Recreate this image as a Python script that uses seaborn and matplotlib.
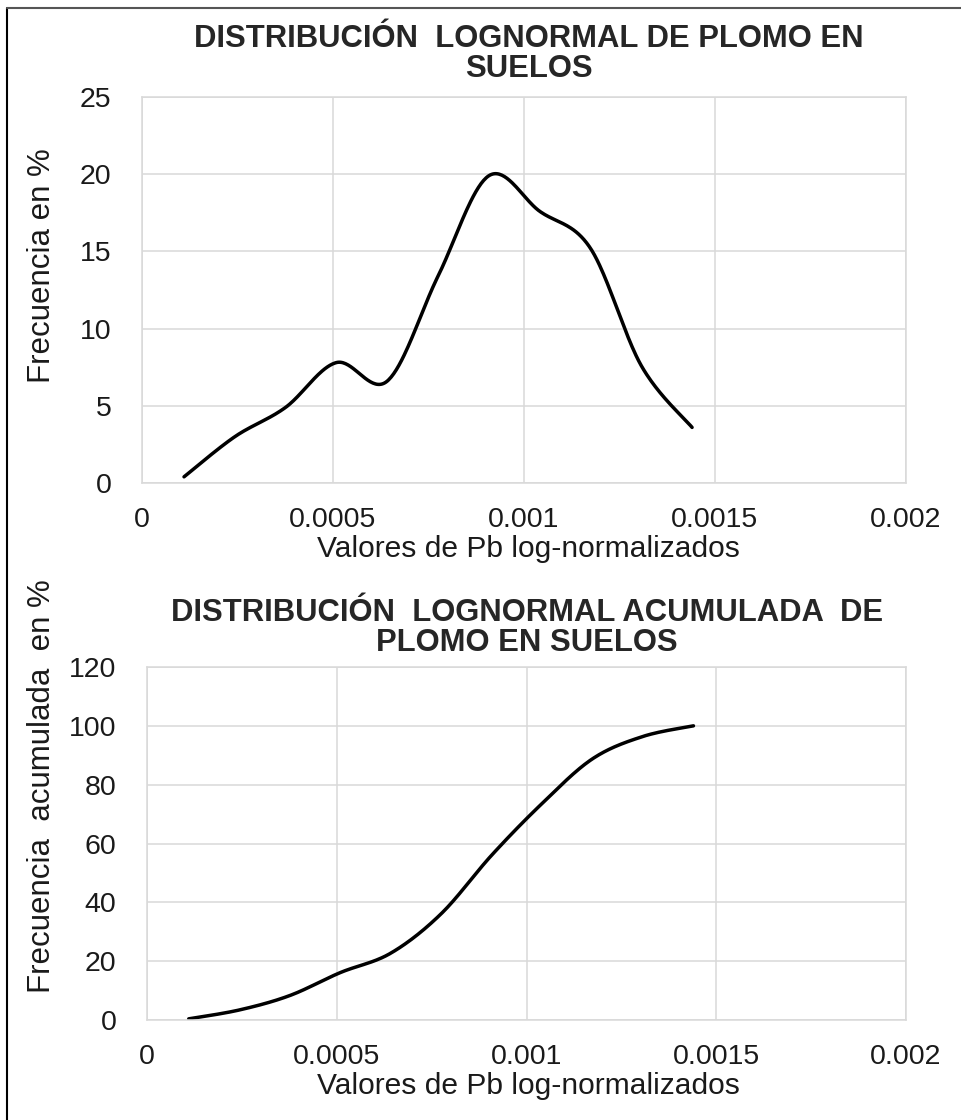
import seaborn as sns
import pandas as pd
import numpy as np
import matplotlib.pyplot as plt


# valores de Pb log-normalizados (centros de clase)
pb_vals = [0.00011, 0.000243, 0.000376, 0.000509, 0.000642, 0.000775,
           0.000908, 0.001041, 0.001174, 0.001307, 0.00144]
# frecuencia en %
frecuencia = [0.4, 3.0, 4.9, 7.8, 6.6, 13.4, 19.9, 17.6, 15.2, 7.6, 3.6]
# frecuencia acumulada en %
acumulada = [0.4, 3.4, 8.3, 16.1, 22.7, 36.1, 56.0, 73.6, 88.8, 96.4, 100.0]

xticks = [0, 0.0005, 0.001, 0.0015, 0.002]
xtick_labels = ['0', '0.0005', '0.001', '0.0015', '0.002']
yticks_top = [0, 5, 10, 15, 20, 25]
yticks_bot = [0, 20, 40, 60, 80, 100, 120]

titulo_1 = 'DISTRIBUCIÓN  LOGNORMAL DE PLOMO EN\nSUELOS'
titulo_2 = 'DISTRIBUCIÓN  LOGNORMAL ACUMULADA  DE\nPLOMO EN SUELOS'
xlab = 'Valores de Pb log-normalizados'
ylab_1 = 'Frecuencia en %'
ylab_2 = 'Frecuencia  acumulada  en %'


def smooth(xs, ys, n=40):
    # curva suavizada tipo Excel (bezier con tangentes catmull-rom)
    p = np.column_stack([xs, ys]).astype(float)
    p = np.vstack([p[0], p, p[-1]])
    out = []
    t = np.linspace(0, 1, n)[:, None]
    for i in range(1, len(p) - 2):
        p0, p3 = p[i], p[i + 1]
        c1 = p0 + (p[i + 1] - p[i - 1]) / 6
        c2 = p3 - (p[i + 2] - p[i]) / 6
        seg = ((1 - t) ** 3) * p0 + 3 * ((1 - t) ** 2) * t * c1 \
            + 3 * (1 - t) * t ** 2 * c2 + t ** 3 * p3
        out.append(seg)
    out = np.vstack(out)
    return pd.DataFrame({'x': out[:, 0], 'y': out[:, 1]})


sns.set_style('white')
plt.rcParams['font.family'] = ['Liberation Sans', 'DejaVu Sans']

W, H = 961, 1120
fig = plt.figure(figsize=(W / 100, H / 100), dpi=100)


def px_axes(left, top, right, bottom):
    return fig.add_axes([left / W, 1 - bottom / H, (right - left) / W, (bottom - top) / H])


def style(ax, yticks):
    ax.set_xlim(0, 0.002)
    ax.set_ylim(yticks[0], yticks[-1])
    ax.set_xticks(xticks)
    ax.set_xticklabels(xtick_labels)
    ax.set_yticks(yticks)
    ax.grid(True, color='#d9d9d9', linewidth=1.1)
    ax.tick_params(length=0, labelsize=20.5, labelcolor='#1a1a1a')
    ax.tick_params(axis='x', pad=17)
    ax.tick_params(axis='y', pad=22)
    for s in ax.spines.values():
        s.set_color('#d9d9d9')
        s.set_linewidth(1.1)
    ax.set_xlabel('')
    ax.set_ylabel('')


ax1 = px_axes(142, 97, 906, 483)
sns.lineplot(data=smooth(pb_vals, frecuencia), x='x', y='y', sort=False,
             color='black', linewidth=2.5, ax=ax1)
style(ax1, yticks_top)

ax2 = px_axes(147, 667, 906, 1020)
sns.lineplot(data=smooth(pb_vals, acumulada), x='x', y='y', sort=False,
             color='black', linewidth=2.5, ax=ax2)
style(ax2, yticks_bot)

fig.text(529 / W, 1 - 54 / H, titulo_1, ha='center', va='center',
         fontsize=22.3, fontweight='bold', linespacing=1.0)
fig.text(527 / W, 1 - 628 / H, titulo_2, ha='center', va='center',
         fontsize=22.3, fontweight='bold', linespacing=1.0)

fig.text(528 / W, 1 - 549 / H, xlab, ha='center', va='center', fontsize=21.6, color='#1a1a1a')
fig.text(528 / W, 1 - 1086 / H, xlab, ha='center', va='center', fontsize=21.6, color='#1a1a1a')
fig.text(42 / W, 1 - 266 / H, ylab_1, ha='center', va='center', rotation=90,
         fontsize=22.5, color='#1a1a1a')
fig.text(42 / W, 1 - 786 / H, ylab_2, ha='center', va='center', rotation=90,
         fontsize=22.5, color='#1a1a1a')

# marco de la imagen (solo arriba e izquierda)
fig.add_artist(plt.Line2D([7 / W, 7 / W], [0, 1 - 8 / H], color='black', linewidth=1.5))
fig.add_artist(plt.Line2D([7 / W, 1], [1 - 8 / H, 1 - 8 / H], color='#555555', linewidth=1.5))

fig.savefig('out.png', dpi=100, facecolor='white')
